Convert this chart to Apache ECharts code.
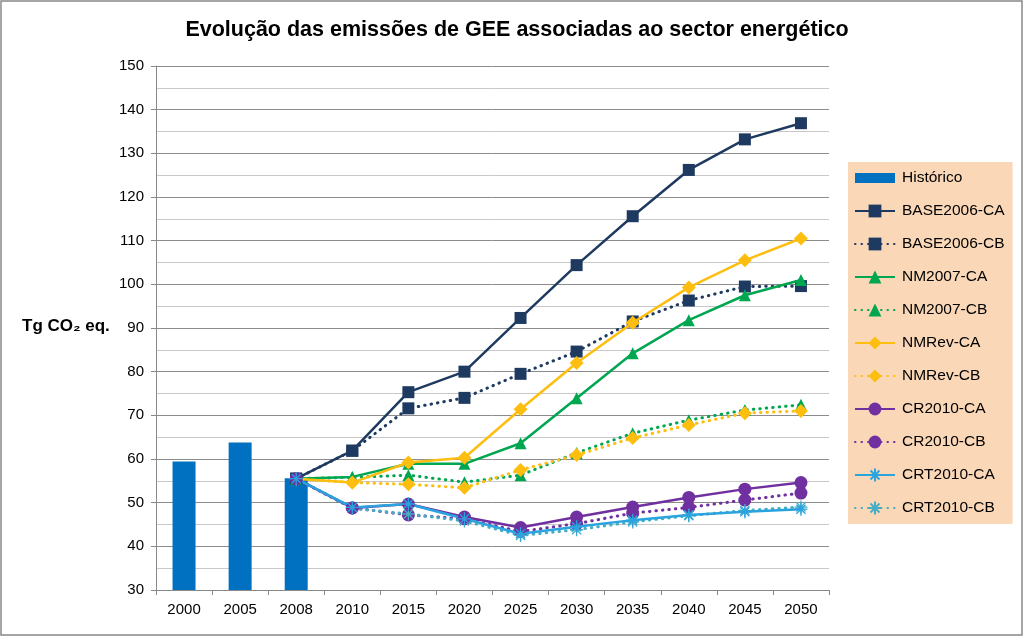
<!DOCTYPE html>
<html><head><meta charset="utf-8">
<script src="https://cdn.jsdelivr.net/npm/echarts@6/dist/echarts.min.js"></script>
<style>html,body{margin:0;padding:0;background:#fff}#c{width:1024px;height:637px}</style>
</head><body><div id="c"></div>
<script>
var categories = ['2000','2005','2008','2010','2015','2020','2025','2030','2035','2040','2045','2050'];
var historico = [59.4, 63.8, 55.6, null, null, null, null, null, null, null, null, null];
var base2006CA = [null, null, 55.5, 61.9, 75.3, 80.0, 92.3, 104.4, 115.6, 126.2, 133.2, 136.9];
var base2006CB = [null, null, 55.5, 61.9, 71.6, 74.0, 79.5, 84.6, 91.5, 96.3, 99.5, 99.6];
var nm2007CA   = [null, null, 55.5, 55.9, 58.9, 58.9, 63.6, 73.9, 84.2, 91.8, 97.5, 101.0];
var nm2007CB   = [null, null, 55.5, 55.8, 56.3, 54.7, 56.3, 61.4, 65.9, 68.9, 71.2, 72.4];
var nmRevCA    = [null, null, 55.5, 54.6, 59.2, 60.3, 71.4, 82.0, 91.2, 99.3, 105.5, 110.5];
var nmRevCB    = [null, null, 55.5, 54.6, 54.2, 53.4, 57.5, 60.9, 64.8, 67.8, 70.5, 71.0];
var cr2010CA   = [null, null, 55.5, 48.8, 49.7, 46.7, 44.3, 46.7, 49.0, 51.2, 53.1, 54.6];
var cr2010CB   = [null, null, 55.5, 48.8, 47.2, 46.3, 43.4, 45.2, 47.6, 48.9, 50.6, 52.2];
var crt2010CA  = [null, null, 55.5, 48.9, 49.7, 46.3, 42.9, 44.5, 46.0, 47.2, 47.9, 48.5];
var crt2010CB  = [null, null, 55.5, 48.7, 47.4, 45.8, 42.5, 43.8, 45.6, 47.0, 48.2, 49.0];
var yTicks = {min: 30, max: 150, interval: 10};
var legendNames = ['Histórico','BASE2006-CA','BASE2006-CB','NM2007-CA','NM2007-CB','NMRev-CA','NMRev-CB','CR2010-CA','CR2010-CB','CRT2010-CA','CRT2010-CB'];

var FONT = 'Liberation Sans';
var starPath = 'path://M-6,0L6,0M0,-6L0,6M-4.2,-4.2L4.2,4.2M-4.2,4.2L4.2,-4.2';

function lineSeries(name, data, color, symbol, size, dotted, extra) {
  var s = {
    name: name, type: 'line', data: data, symbol: symbol, symbolSize: size,
    showAllSymbol: true, z: dotted ? 3 : 4,
    lineStyle: dotted ? {color: color, width: 3, type: [0.5, 6], cap: 'round'} : {color: color, width: 2.5},
    itemStyle: {color: color}
  };
  if (extra) { for (var k in extra) s[k] = extra[k]; }
  return s;
}

var legendData = legendNames.map(function (n, i) {
  return i === 0 ? {name: n, icon: 'path://M0,0L40,0L40,10L0,10Z'} : {name: n};
});

var chart = echarts.init(document.getElementById('c'), null, {renderer: 'canvas'});
chart.setOption({
  backgroundColor: '#fff',
  animation: false,
  title: {
    text: 'Evolução das emissões de GEE associadas ao sector energético',
    left: 512, top: 14, textAlign: 'center',
    textStyle: {fontFamily: FONT, fontSize: 21.5, fontWeight: 'bold', color: '#000'}
  },
  grid: {left: 156, right: 195, top: 66, bottom: 47},
  legend: {
    orient: 'vertical', left: 848, top: 162, width: 164,
    padding: [8, 8, 8, 6], itemGap: 17, itemWidth: 40, itemHeight: 16,
    backgroundColor: '#FAD7B7',
    textStyle: {fontFamily: FONT, fontSize: 15.5, color: '#000', padding: [0, 0, 0, 2]},
    data: legendData
  },
  xAxis: {
    type: 'category', data: categories, boundaryGap: true,
    axisLine: {lineStyle: {color: '#888', width: 1}},
    axisTick: {show: true, length: 5, lineStyle: {color: '#888'}},
    axisLabel: {fontFamily: FONT, fontSize: 15, color: '#000', margin: 12}
  },
  yAxis: {
    type: 'value', min: yTicks.min, max: yTicks.max, interval: yTicks.interval,
    axisLine: {show: true, lineStyle: {color: '#888', width: 1}},
    axisTick: {show: true, length: 5, lineStyle: {color: '#888'}},
    axisLabel: {fontFamily: FONT, fontSize: 15, color: '#000', margin: 12},
    splitLine: {lineStyle: {color: '#8c8c8c', width: 1}},
    minorTick: {show: false, splitNumber: 2},
    minorSplitLine: {show: true, lineStyle: {color: '#c8c8c8', width: 1}}
  },
  graphic: [
    {type: 'rect', shape: {x: 1, y: 1, width: 1021, height: 634}, style: {fill: 'none', stroke: '#888', lineWidth: 1.5}, z: 100},
    {type: 'text', left: 22, top: 318, style: {text: 'Tg CO₂ eq.', fontFamily: FONT, fontSize: 17, fontWeight: 'bold', fill: '#000'}}
  ],
  series: [
    {name: 'Histórico', type: 'bar', data: historico, barWidth: 23, itemStyle: {color: '#0070C0'}, z: 2},
    lineSeries('BASE2006-CA', base2006CA, '#1F3A60', 'rect', 12, false),
    lineSeries('BASE2006-CB', base2006CB, '#1F3A60', 'rect', 12, true),
    lineSeries('NM2007-CA', nm2007CA, '#00A650', 'triangle', 12, false),
    lineSeries('NM2007-CB', nm2007CB, '#00A650', 'triangle', 12, true),
    lineSeries('NMRev-CA', nmRevCA, '#FDBE10', 'diamond', 14, false),
    lineSeries('NMRev-CB', nmRevCB, '#FDBE10', 'diamond', 14, true),
    lineSeries('CR2010-CA', cr2010CA, '#7030A0', 'circle', 13, false),
    lineSeries('CR2010-CB', cr2010CB, '#7030A0', 'circle', 13, true),
    lineSeries('CRT2010-CA', crt2010CA, '#2AA3DF', starPath, 13, false, {itemStyle: {color: '#2AA3DF', borderColor: '#2AA3DF', borderWidth: 1.3}}),
    lineSeries('CRT2010-CB', crt2010CB, '#46AEC4', starPath, 13, true, {itemStyle: {color: '#46AEC4', borderColor: '#46AEC4', borderWidth: 1.3}})
  ]
});
</script>
</body></html>
